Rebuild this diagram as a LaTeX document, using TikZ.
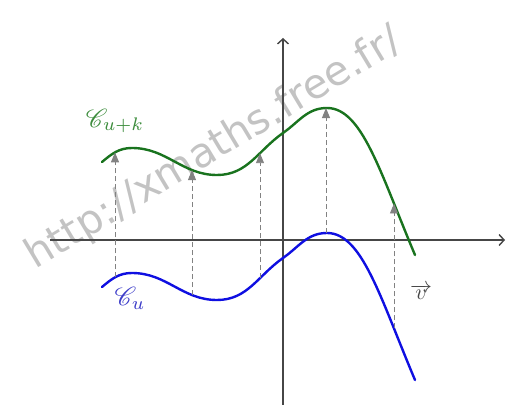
\documentclass[tikz,border=0pt]{standalone}
\usepackage{fontspec}
\usepackage{graphicx}
\usepackage{mathrsfs}
\usetikzlibrary{arrows.meta,intersections}
\newfontfamily\wmfont{DejaVu Sans}
\definecolor{cgreen}{RGB}{25,115,30}
\definecolor{cblue}{RGB}{15,15,225}
\definecolor{lgreen}{RGB}{60,140,60}
\definecolor{lblue}{RGB}{60,60,200}
\definecolor{axcol}{RGB}{70,70,70}
\definecolor{arrcol}{RGB}{130,130,130}
\definecolor{wmcol}{RGB}{195,195,195}
\tikzset{
  axisline/.style={draw=axcol, line width=1.4pt, -{Straight Barb[length=5pt,width=11pt,line width=1.4pt]}},
  curveline/.style={line width=2.4pt, line cap=round},
  vecarrow/.style={draw=arrcol, line width=0.9pt, dash pattern=on 5pt off 3pt,
     -{Triangle[length=10pt,width=8pt,fill=arrcol]}},
  wmark/.style={text=wmcol, font=\wmfont\fontsize{41}{41}\selectfont, rotate=31, inner sep=0pt},
  lbl/.style={inner sep=0pt}
}
\begin{document}
\begin{tikzpicture}[x=1pt,y=1pt]
\useasboundingbox (0,0) rectangle (507,405);
% watermark
\node[wmark] (wm) at (214,256) {http://xmaths.free.fr/};
% axes
\coordinate (xs) at (50,165);
\coordinate (xe) at (505,165);
\coordinate (ys) at (283,0);
\coordinate (ye) at (283,367);
\draw[axisline] (xs) -- (xe);
\draw[axisline] (ys) -- (ye);
% curves
\def\curvepath{(102,243) to[out=40,in=180] (132,257) to[out=0,in=180] (217,230)
  to[out=0,in=215] (283,272) to[out=35,in=180] (327,297)
  .. controls (362,297) and (380,233) .. (415,150)}
\draw[curveline, draw=cgreen, name path=gcurve] \curvepath;
\draw[curveline, draw=cblue, name path=bcurve] [shift={(0,-125)}] \curvepath;
% translation arrows
\path[name path=vla] (115,-10) -- (115,415);
\path[name path=vlb] (192,-10) -- (192,415);
\path[name path=vlc] (260,-10) -- (260,415);
\path[name path=vld] (326,-10) -- (326,415);
\path[name path=vle] (394,-10) -- (394,415);
\path[name intersections={of=vla and gcurve, by=ga}];
\path[name intersections={of=vla and bcurve, by=ba}];
\path[name intersections={of=vlb and gcurve, by=gb}];
\path[name intersections={of=vlb and bcurve, by=bb}];
\path[name intersections={of=vlc and gcurve, by=gc}];
\path[name intersections={of=vlc and bcurve, by=bc}];
\path[name intersections={of=vld and gcurve, by=gd}];
\path[name intersections={of=vld and bcurve, by=bd}];
\path[name intersections={of=vle and gcurve, by=ge}];
\path[name intersections={of=vle and bcurve, by=be}];
\draw[vecarrow] (ba) -- (ga);
\draw[vecarrow] (bb) -- (gb);
\draw[vecarrow] (bc) -- (gc);
\draw[vecarrow] (bd) -- (gd);
\draw[vecarrow] (be) -- (ge);
% labels
\node[lbl, text=lgreen] (lg) at (115,284) {\scalebox{2.6}{$\mathscr{C}_{u+k}$}};
\node[lbl, text=lblue] (lb) at (130,107) {\scalebox{2.6}{$\mathscr{C}_{u}$}};
\node[lbl, text=axcol] (lv) at (421,113) {\scalebox{2.2}{$\overrightarrow{v}$}};
\end{tikzpicture}
\end{document}
